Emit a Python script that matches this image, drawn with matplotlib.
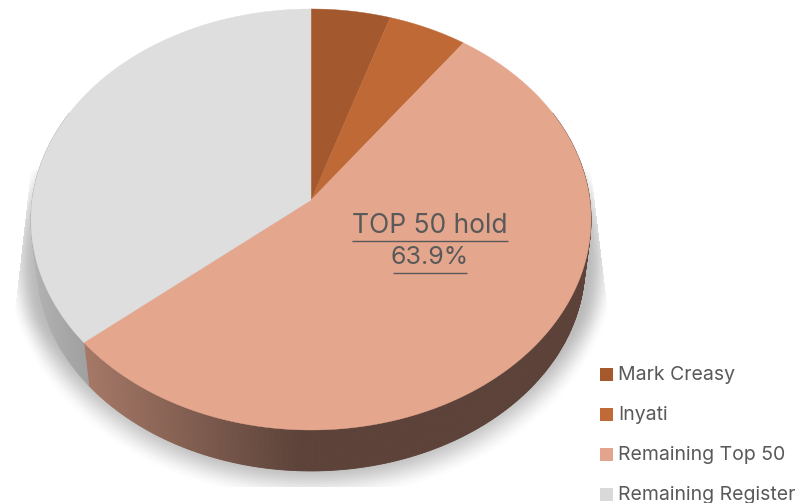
import numpy as np
import matplotlib
matplotlib.use("Agg")
import matplotlib.pyplot as plt
from matplotlib.patches import Polygon, Rectangle

# Data
categories = ["Mark Creasy", "Inyati", "Remaining Top 50", "Remaining Register"]
shares = [5.0, 5.0, 53.9, 36.1]
top_colors = ["#A3592D", "#BF6A36", "#E5A68E", "#DEDEDE"]
legend_colors = ["#A5592D", "#C06A37", "#E3A48D", "#D9D9D9"]
callout_lines = ["TOP 50 hold", "63.9%"]

FONT = "Inter"
TEXT = "#595959"

fig = plt.figure(figsize=(8, 5.03), dpi=100, facecolor="white")
ax = fig.add_axes([0, 0, 1, 1])
ax.set_xlim(0, 800)
ax.set_ylim(503, 0)
ax.axis("off")

# Perspective projection of the pie disc
CX, CY = 311.0, 200.0
A, B, K = 278.8, 208.7, 0.0926
S, DY = 0.978, 46.0


def top_pt(t):
    u, v = np.sin(t), np.cos(t)
    w = 1 + K * v
    return CX + A * u / w, CY - B * v / w


def bottom_pt(t):
    x, y = top_pt(t)
    return CX + (x - CX) * S, CY + (y - CY) * S + DY


# Shadow
yy, xx = np.mgrid[0:503, 0:800] + 0.5
r = np.sqrt(((xx - 311) / 306.0) ** 2 + ((yy - 262) / 240.0) ** 2)
width = 0.10 + 0.06 * np.clip((yy - 320) / 100, 0, 1)
e = np.clip((1.0 - r) / width, 0, 1)
soft = e * e * (3 - 2 * e)
alpha = 0.27 * soft
# flat, tapered upper flanks
left = np.where(yy < 320, 31 - (yy - 170) * 17 / 150, 14)
right = np.where(yy < 320, 591 + (yy - 170) * 18 / 150, 609)
mask = (yy > 170) & (yy < 487) & (xx > left) & (xx < right)
alpha = alpha * mask
rgba = np.zeros((503, 800, 4))
rgba[..., 3] = alpha
ax.imshow(rgba, extent=(0, 800, 503, 0), aspect="auto", zorder=1, interpolation="bilinear")
ax.set_xlim(0, 800)
ax.set_ylim(503, 0)

# Walls and top
fr = np.array(shares) / sum(shares)
edges = np.concatenate([[0], np.cumsum(fr)]) * 2 * np.pi


def shade(x):
    return float(np.clip(0.72 + (85 - x) * 0.00149 if x < 300 else 0.40, 0.40, 0.85))


for i, col in enumerate(top_colors):
    base = np.array(matplotlib.colors.to_rgb(col))
    ts = np.linspace(edges[i], edges[i + 1], max(2, int((edges[i + 1] - edges[i]) * 130)))
    for t0, t1 in zip(ts[:-1], ts[1:]):
        if np.cos((t0 + t1) / 2) > 0.25 and abs(np.sin((t0 + t1) / 2)) < 0.9:
            continue
        quad = [top_pt(t0), top_pt(t1), bottom_pt(t1), bottom_pt(t0)]
        c = base * shade(0.5 * (quad[0][0] + quad[1][0]))
        ax.add_patch(Polygon(quad, closed=True, facecolor=c, edgecolor=c, lw=0.6, zorder=2))

for i, col in enumerate(top_colors):
    ts = np.linspace(edges[i], edges[i + 1], 200)
    pts = [(CX, CY)] + [top_pt(t) for t in ts]
    ax.add_patch(Polygon(pts, closed=True, facecolor=col, edgecolor=col, lw=0.3, zorder=3))

# Callout
ax.text(430, 226, callout_lines[0], ha="center", va="center", fontsize=19,
        color=TEXT, family=FONT, zorder=5)
ax.plot([352, 508], [241, 241], color=TEXT, lw=1.0, zorder=5, solid_capstyle="butt")
ax.text(430, 257, callout_lines[1], ha="center", va="center", fontsize=18,
        color=TEXT, family=FONT, zorder=5)
ax.plot([393, 467], [273, 273], color=TEXT, lw=1.0, zorder=5, solid_capstyle="butt")

# Legend
for i, (name, c) in enumerate(zip(categories, legend_colors)):
    y = 368 + 40 * i
    ax.add_patch(Rectangle((600, y), 13, 13, facecolor=c, edgecolor="none", zorder=5))
    ax.text(618, y + 7, name, ha="left", va="center", fontsize=14, color=TEXT,
            family=FONT, zorder=5)

fig.savefig("out.png", dpi=100)
